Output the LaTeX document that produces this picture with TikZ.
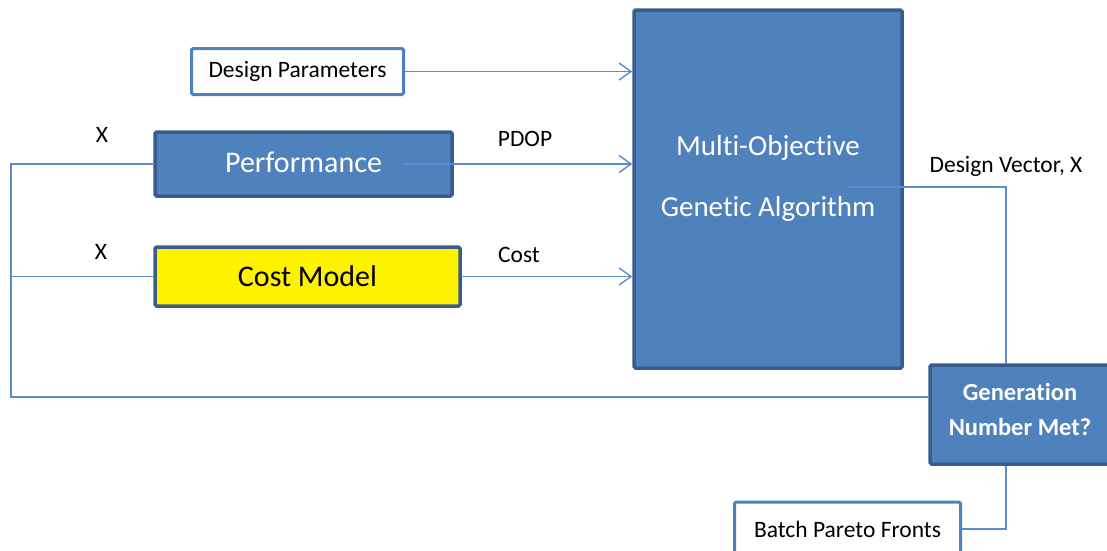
\documentclass[tikz,border=0pt]{standalone}
\usepackage{fontspec}
\setmainfont{Carlito}[Ligatures=NoCommon]
\usetikzlibrary{arrows.meta}
\definecolor{boxblue}{HTML}{4F81BD}
\definecolor{edgeblue}{HTML}{385D8A}
\definecolor{lineblue}{HTML}{5B8CCB}

\begin{document}
\begin{tikzpicture}[x=1pt, y=-1pt, thick]
\useasboundingbox (0,0) rectangle (1107,550);
\tikzstyle{every node} = [inner sep=0pt, font=\fontsize{23.5}{26}\selectfont]
\tikzstyle{solid box} = [draw=edgeblue, line width=3.5pt, fill=boxblue, text=white, rounded corners=1.5pt]
\tikzstyle{open box} = [draw=boxblue, line width=3pt, fill=white, rounded corners=1.5pt]
\tikzstyle{link} = [draw=lineblue, line width=1.4pt]
\tikzstyle{feed} = [link, -{Straight Barb[length=12pt, width=17pt]}]
\node[open box, minimum width=212pt, minimum height=46pt] (dp) at (297.5,71.5) {Design Parameters};
\node[solid box, minimum width=297pt, minimum height=64pt, font=\fontsize{30}{34}\selectfont] (perf) at (303.5,164) {\raisebox{3pt}{Performance}};
\node[solid box, fill=yellow, text=black, minimum width=305pt, minimum height=59pt, font=\fontsize{30}{34}\selectfont] (cost) at (307.5,276.5) {Cost Model};
\node[solid box, minimum width=268pt, minimum height=358pt] (moga) at (768,189) {};
\node[text=white, align=center, font=\fontsize{29}{61}\selectfont] (mogatext) at (768,178.5) {Multi-Objective\\Genetic Algorithm};
\node[solid box, minimum width=180pt, minimum height=99pt] (gen) at (1020,414.5) {};
\node[text=white, align=center, font=\bfseries\fontsize{24.5}{35}\selectfont] (gentext) at (1020,409.5) {Generation\\Number Met?};
\node[open box, minimum width=226pt, minimum height=54pt] (batch) at (847.5,529) {Batch Pareto Fronts};
% inputs to the optimiser
\draw[feed] (dp.east) -- (moga.west |- dp.east);
\draw[feed] ([xshift=-50pt]perf.east) -- (moga.west |- perf.east) node at (525,139) {PDOP};
\draw[feed] (cost.east) -- (moga.west |- cost.east) node at (519,255) {Cost};
% feedback loop
\coordinate (corner) at (11,397);
\draw[link] ([yshift=17.5pt]gen.west) -- (corner) |- (perf.west) node at (102,135) {X};
\draw[link] (corner |- cost.west) -- (cost.west) node at (101,252) {X};
\draw[link] ([xshift=79pt, yshift=2pt]moga.center) -| ([xshift=-14pt]gen.north) node at (1006,166) {Design Vector, X};
\draw[link] ([xshift=-14pt]gen.south) |- (batch.east);
\end{tikzpicture}
\end{document}
